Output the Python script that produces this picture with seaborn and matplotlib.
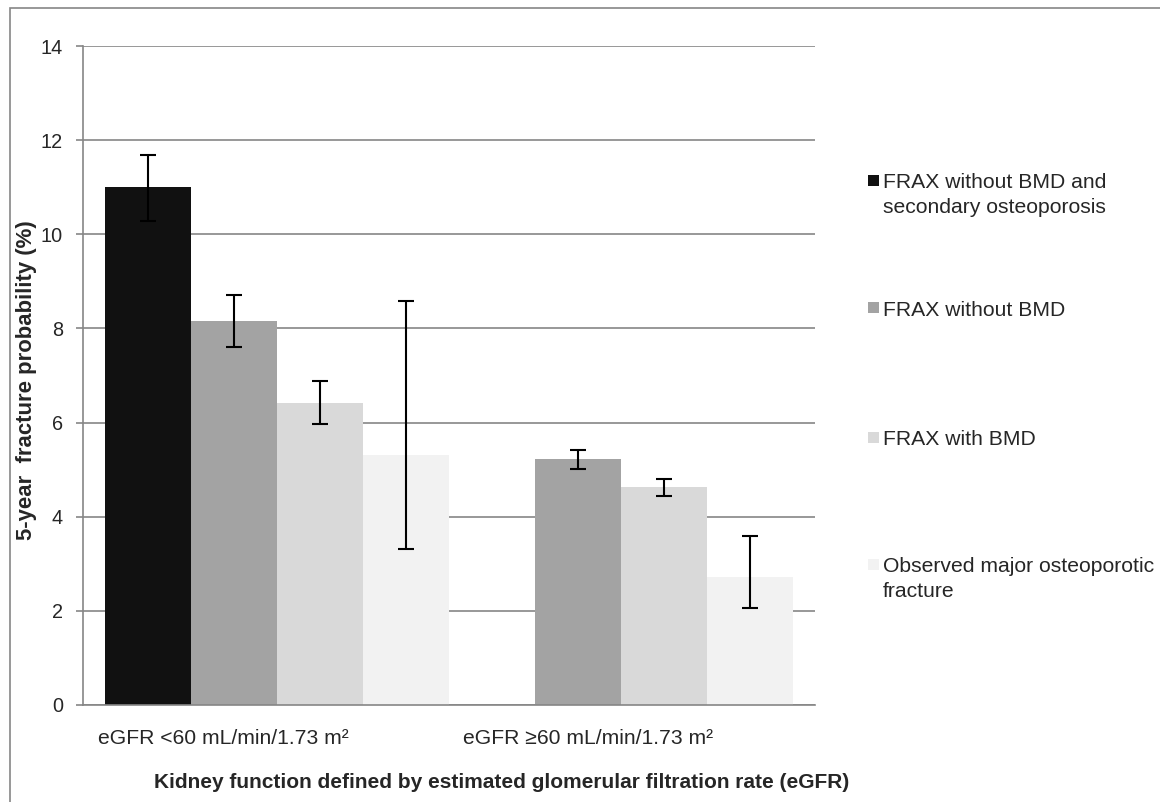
import numpy as np
import pandas as pd
import matplotlib
matplotlib.use("Agg")
import matplotlib.pyplot as plt
import matplotlib.transforms as mtrans
from matplotlib.patches import Rectangle
import seaborn as sns

# ---------------- data ----------------
categories = ["eGFR <60 mL/min/1.73 m²", "eGFR ≥60 mL/min/1.73 m²"]
series = [
    "FRAX without BMD and\nsecondary osteoporosis",
    "FRAX without BMD",
    "FRAX with BMD",
    "Observed major osteoporotic\nfracture",
]
frax_no_bmd_secondary = [11.0, np.nan]
frax_no_bmd = [8.15, 5.23]
frax_bmd = [6.42, 4.63]
observed = [5.32, 2.72]

frax_no_bmd_secondary_lo = [10.28, np.nan]
frax_no_bmd_secondary_hi = [11.68, np.nan]
frax_no_bmd_lo = [7.61, 5.01]
frax_no_bmd_hi = [8.72, 5.41]
frax_bmd_lo = [5.96, 4.45]
frax_bmd_hi = [6.88, 4.81]
observed_lo = [3.31, 2.06]
observed_hi = [8.58, 3.60]

colors = ["#111111", "#a3a3a3", "#d9d9d9", "#f2f2f2"]
y_ticks = [0, 2, 4, 6, 8, 10, 12, 14]
y_label = "5-year  fracture probability (%)"
x_label = "Kidney function defined by estimated glomerular filtration rate (eGFR)"

values = [frax_no_bmd_secondary, frax_no_bmd, frax_bmd, observed]
lows = [frax_no_bmd_secondary_lo, frax_no_bmd_lo, frax_bmd_lo, observed_lo]
highs = [frax_no_bmd_secondary_hi, frax_no_bmd_hi, frax_bmd_hi, observed_hi]

rows = []
for s, vals, lo, hi in zip(series, values, lows, highs):
    for c, v, l, h in zip(categories, vals, lo, hi):
        if not np.isnan(v):
            rows.append({"category": c, "series": s, "value": v, "lo": l, "hi": h})
df = pd.DataFrame(rows)

# ---------------- style ----------------
sns.set_style("white")
plt.rcParams["font.family"] = ["Liberation Sans", "DejaVu Sans"]

W, H = 1160, 802
fig = plt.figure(figsize=(W / 100, H / 100), dpi=100)
renderer = fig.canvas.get_renderer()
ax_left, ax_right, ax_top, ax_bottom = 83, 815, 46, 705
ax = fig.add_axes([ax_left / W, 1 - ax_bottom / H,
                   (ax_right - ax_left) / W, (ax_bottom - ax_top) / H])

sns.barplot(data=df, x="category", y="value", hue="series",
            order=categories, hue_order=series, palette=colors,
            width=1.0, errorbar=None, legend=False, ax=ax,
            saturation=1, linewidth=0)

# error bars
for cont, s in zip(ax.containers, series):
    present = [c for c in categories if c in set(df.loc[df["series"] == s, "category"])]
    sub = df[df["series"] == s].set_index("category").reindex(present)
    for bar, (_, r) in zip(cont, sub.iterrows()):
        xc = bar.get_x() + bar.get_width() / 2
        ax.errorbar(xc, r["value"],
                    yerr=[[r["value"] - r["lo"]], [r["hi"] - r["value"]]],
                    fmt="none", ecolor="black", elinewidth=1.5,
                    capsize=5.5, capthick=1.5, zorder=5)

pad = 22 / 344
ax.set_xlim(-0.5 - pad, 1.5 + pad)
ax.set_ylim(0, 14)
ax.set_yticks(y_ticks)
ax.set_yticklabels([str(t) for t in y_ticks], fontsize=14.3)
ax.yaxis.grid(True, color="#868686", linewidth=1.2)
ax.set_axisbelow(True)
for side in ["top", "right"]:
    ax.spines[side].set_visible(False)
for side in ["left", "bottom"]:
    ax.spines[side].set_color("#868686")
    ax.spines[side].set_linewidth(1.2)
ax.tick_params(axis="y", length=5, width=1.2, color="#868686", pad=9.4, left=True)
ax.tick_params(axis="x", length=0, pad=17)

ax.set_xticks([0, 1])
ax.set_xticklabels(categories, fontsize=15.2, ha="left")
tick_px = [277, 621]
left_px = [98, 463]
for lab, tp, lp in zip(ax.get_xticklabels(), tick_px, left_px):
    lab.set_transform(lab.get_transform() +
                      mtrans.ScaledTranslation((lp - tp) / 100, 0, fig.dpi_scale_trans))
ax.set_xlabel("")
ax.set_ylabel("")


def fit_text(t, target_px, horizontal=True):
    bb = t.get_window_extent(renderer)
    cur = bb.width if horizontal else bb.height
    t.set_fontsize(t.get_fontsize() * target_px / cur)


yl = fig.text(27 / W, 1 - 380 / H, y_label, rotation=90,
              ha="center", va="center", fontsize=14, fontweight="bold")
fit_text(yl, 320, horizontal=False)
xl = fig.text(502 / W, 1 - 782 / H, x_label,
              ha="center", va="center", fontsize=14, fontweight="bold")
fit_text(xl, 695)

# legend (Excel-like spacing)
leg_fs = 15.2
leg_centers = [180, 308, 437, 564]
line_px = 25.5
for s, col, yc in zip(series, colors, leg_centers):
    fig.patches.append(Rectangle((868 / W, 1 - (yc + 5.5) / H), 11 / W, 11 / H,
                                 transform=fig.transFigure, facecolor=col,
                                 edgecolor="none"))
    lines = s.split("\n")
    for k, line in enumerate(lines):
        fig.text(883 / W, 1 - (yc + 7.5 + k * line_px) / H, line,
                 ha="left", va="baseline", fontsize=leg_fs)

# outer frame
fig.patches.append(Rectangle((10 / W, -0.05), 1.1, 1 - 8 / H + 0.05,
                             transform=fig.transFigure, facecolor="none",
                             edgecolor="#868686", linewidth=1.2))

fig.savefig("out.png", dpi=100)
